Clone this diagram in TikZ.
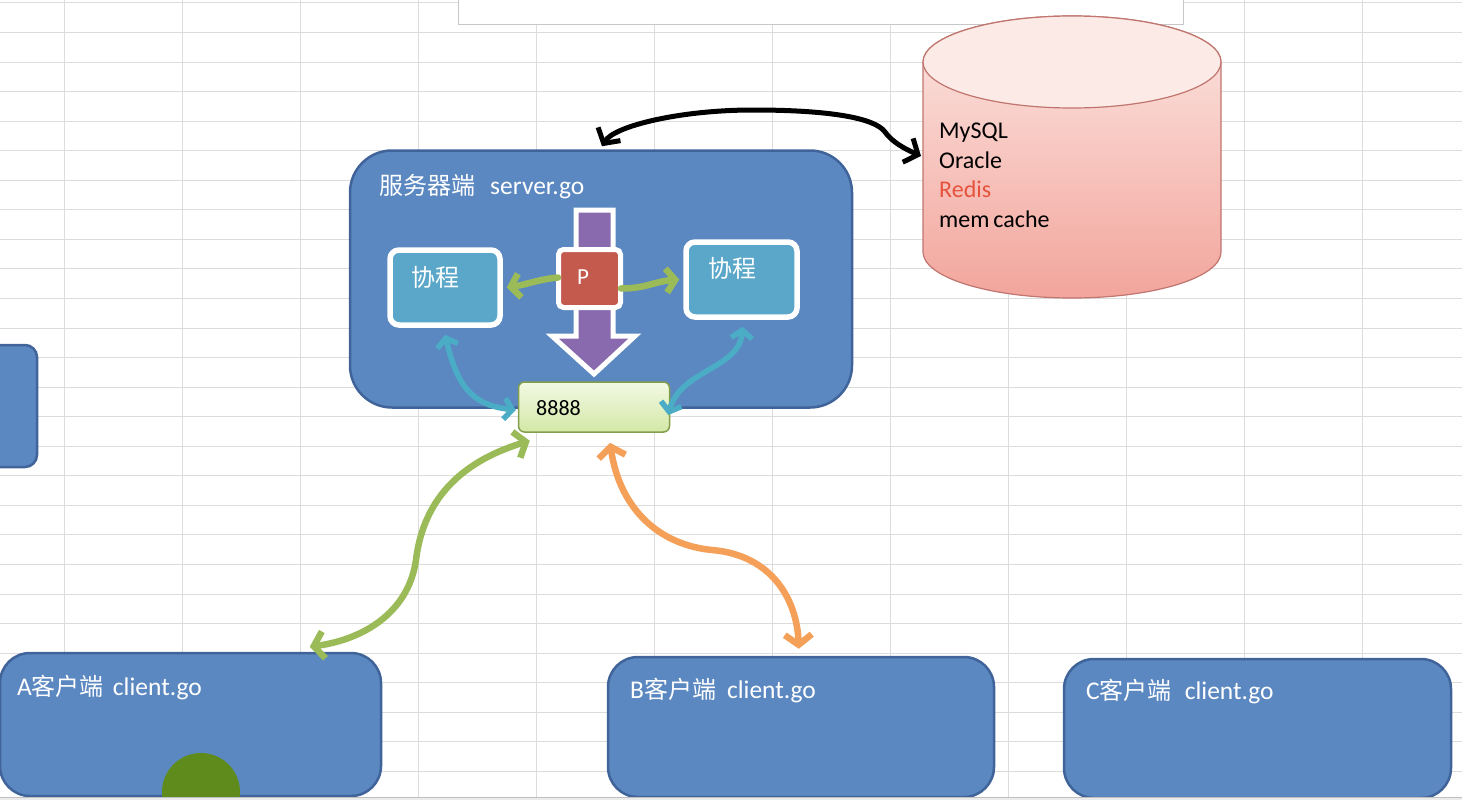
\documentclass[tikz,border=0pt]{standalone}
\usepackage{fontspec}
\setmainfont{Carlito}
\newfontfamily\cjk{Noto Sans CJK SC}
\newcommand\zh[1]{{\cjk\fontsize{24}{29}\selectfont #1}}
\usetikzlibrary{arrows.meta,calc}
\definecolor{gridc}{HTML}{DCDCDC}
\definecolor{boxblue}{HTML}{5B88C1}
\definecolor{boxedge}{HTML}{40649A}
\definecolor{coblue}{HTML}{5BA7C9}
\definecolor{pred}{HTML}{C4594E}
\definecolor{ppurple}{HTML}{8A6AAE}
\definecolor{agreen}{HTML}{9BBB59}
\definecolor{aorange}{HTML}{F5A059}
\definecolor{ablue}{HTML}{4BACC6}
\definecolor{porttop}{HTML}{F3F9E4}
\definecolor{portbot}{HTML}{D3E8A6}
\definecolor{cyltop}{HTML}{FCE6E2}
\definecolor{cylbot}{HTML}{F2A59C}
\definecolor{cyledge}{HTML}{C0756E}
\definecolor{redis}{HTML}{E5533E}
\definecolor{dotc}{HTML}{5E8B1C}
\tikzset{
  gridline/.style={draw=gridc, line width=1pt},
  bigbox/.style={rectangle, rounded corners=30pt, fill=boxblue, draw=boxedge, line width=2.5pt, inner sep=0pt},
  cobox/.style={rectangle, rounded corners=9pt, fill=coblue, draw=white, line width=5.5pt, inner sep=0pt},
  wtext/.style={text=white, font=\fontsize{25.5}{30}\selectfont, inner sep=0pt},
  btext/.style={text=black, font=\fontsize{24}{29.5}\selectfont, inner sep=0pt},
  dblarrow/.style n args={3}{line width=#1, line cap=round,
     {Straight Barb[length=#2, width=#3]}-{Straight Barb[length=#2, width=#3]}},
  onearrow/.style n args={3}{line width=#1, line cap=round,
     -{Straight Barb[length=#2, width=#3]}},
}
\begin{document}
\begin{tikzpicture}[x=1pt,y=-1pt]
\useasboundingbox (0,0) rectangle (1462,800);
\fill[white] (0,0) rectangle (1462,800);
% grid
\foreach \gx in {64,182,...,1400} \draw[gridline] (\gx,0) -- (\gx,800);
\foreach \gi in {0,...,27} \draw[gridline] (0,{3+29.55*\gi}) -- (1462,{3+29.55*\gi});
% top white box
\draw[fill=white, draw=black!22, line width=1pt] (458,-5) rectangle (1183,25);
% left partial box
\node[bigbox, rounded corners=12pt, minimum width=60pt, minimum height=122pt] (edgebox) at (7,406) {};
% server box
\node[bigbox, rounded corners=42pt, minimum width=502pt, minimum height=257pt] (srv) at (601,279) {};
\node[wtext, anchor=west] (srvt) at (379,187) {\zh{服务器端}\hspace{15pt}server.go};
% block arrow
\draw[fill=ppurple, draw=white, line width=5pt, line join=miter]
  (576,210) -- (613,210) -- (613,336) -- (635,336) -- (594,374) -- (552,336) -- (576,336) -- cycle;
% coroutine boxes
\node[cobox, minimum width=110pt, minimum height=75pt] (lco) at (445,287.5) {};
\node[wtext] (lcot) at (435,277) {\zh{协程}};
\node[cobox, minimum width=111pt, minimum height=75pt] (rco) at (741.5,279.5) {};
\node[wtext] (rcot) at (732,268) {\zh{协程}};
% P box
\node[rectangle, rounded corners=5pt, fill=pred, draw=white, line width=5pt, minimum width=62pt, minimum height=58pt, inner sep=0pt] (pbox) at (589.5,278.5) {};
% green arrows from P
\draw[agreen, onearrow={6.5pt}{9pt}{24pt}] ($(pbox.west)+(2,-1)$) .. controls +(-20,2) and +(20,-3) .. ($(lco.east)+(4,0)$);
\draw[agreen, onearrow={6.5pt}{9pt}{24pt}] ($(pbox.east)+(-2,10)$) .. controls +(25,0) and +(-25,2) .. ($(rco.west)+(-4,0)$);
\node[text=white, font=\fontsize{23}{26}\selectfont, inner sep=0pt] (pt) at (583,277) {P};
% port box
\node[rectangle, rounded corners=6pt, top color=porttop, bottom color=portbot, draw=agreen!85!black, line width=1.5pt, minimum width=151pt, minimum height=50pt, inner sep=0pt] (port) at (594,407) {};
\node[btext, font=\fontsize{22}{26}\selectfont, anchor=west] (portt) at (536,408) {8888};
% blue arrows
\draw[ablue, dblarrow={5.5pt}{8pt}{21pt}] ($(lco.south)+(0,7)$) .. controls +(12,50) and +(-45,-5) .. ($(port.west)+(-2,3)$);
\draw[ablue, dblarrow={5.5pt}{8pt}{21pt}] ($(rco.south)+(1,7)$) .. controls +(-3,42) and +(12,-45) .. ($(port.east)+(-2,8)$);
% client boxes
\node[bigbox, minimum width=381pt, minimum height=143pt] (cA) at (190.5,724.5) {};
\node[wtext, anchor=west] (cAt) at (17,687) {A\zh{客户端}\hspace{9pt}client.go};
\node[bigbox, minimum width=386pt, minimum height=140pt] (cB) at (801,727) {};
\node[wtext, anchor=west] (cBt) at (630,690) {B\zh{客户端}\hspace{11pt}client.go};
\node[bigbox, minimum width=387pt, minimum height=139pt] (cC) at (1257.5,728.5) {};
\node[wtext, anchor=west] (cCt) at (1086,691) {C\zh{客户端}\hspace{13pt}client.go};
% big green arrow
\draw[agreen, dblarrow={6.5pt}{10pt}{27pt}] ($(port.south west)+(12,8)$) .. controls (450,465) and (422,510) .. (416,560) .. controls (408,615) and (360,640) .. ($(cA.north west)+(311,-5)$);
% orange arrow
\draw[aorange, dblarrow={6.5pt}{10pt}{27pt}] ($(port.south)+(16,10)$) .. controls (620,510) and (660,545) .. (712,550) .. controls (772,555) and (797,600) .. ($(cB.north west)+(192,-7)$);
% cylinder
\shade[top color=cyltop, bottom color=cylbot, draw=cyledge, line width=1.2pt]
  (923,62) -- (923,252) arc[start angle=180, end angle=0, x radius=149, y radius=46]
  -- (1221,62) arc[start angle=0, end angle=-180, x radius=149, y radius=46] -- cycle;
\draw[fill=cyltop!85!white, draw=cyledge, line width=1.2pt] (1072,62) ellipse [x radius=149, y radius=46];
\coordinate (dbl) at (921,156);
\node[btext, anchor=north west, align=left] (dbt) at (939,123)
  {MySQL\\Oracle\\\textcolor{redis}{Redis}\\mem\,cache};
% black arrow
\draw[black, dblarrow={5pt}{11pt}{26pt}] ($(srv.north)+(1,-3)$) .. controls (614,126) and (680,110) .. (753,110) .. controls (830,110) and (875,118) .. (885,132) .. controls (892,142) and (905,149) .. (dbl);
% cursor dot
\fill[dotc] (201,792) circle (39);
% bottom bar
\fill[black!8] (0,797) rectangle (1462,800);
\draw[black!25, line width=1pt] (0,797) -- (1462,797);
\end{tikzpicture}
\end{document}
